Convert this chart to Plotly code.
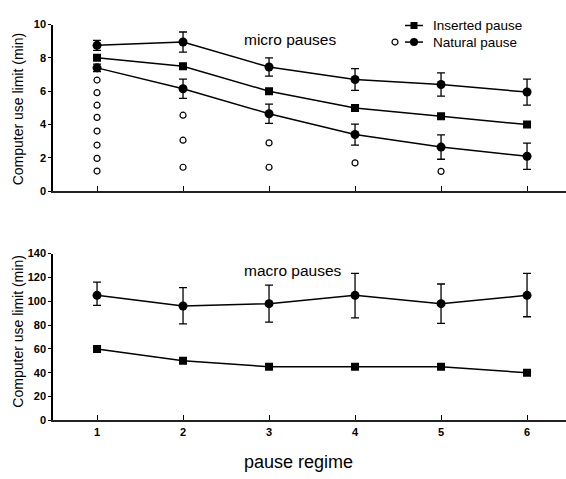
import plotly.graph_objects as go

W, H = 566, 479

regime = [1, 2, 3, 4, 5, 6]
tick_labels = ["1", "2", "3", "4", "5", "6"]

# micro pauses (top panel)
micro_inserted = [8.0, 7.5, 6.0, 5.0, 4.5, 4.0]
micro_nat_upper = [8.75, 8.95, 7.45, 6.7, 6.4, 5.95]
micro_nat_upper_err = [0.3, 0.6, 0.55, 0.65, 0.7, 0.78]
micro_nat_lower = [7.4, 6.15, 4.65, 3.4, 2.65, 2.1]
micro_nat_lower_err = [0.22, 0.58, 0.58, 0.63, 0.73, 0.79]
indiv_x = [1, 1, 1, 1, 1, 1, 1, 1, 2, 2, 2, 3, 3, 4, 5]
indiv_y = [6.67, 5.91, 5.16, 4.43, 3.61, 2.77, 1.97, 1.21,
           4.56, 3.06, 1.44, 2.9, 1.44, 1.7, 1.19]

# macro pauses (bottom panel)
macro_inserted = [60, 50, 45, 45, 45, 40]
macro_natural = [105, 96, 98, 105, 98, 105]
macro_err_plus = [11, 15.5, 15.5, 18.5, 16.5, 18.5]
macro_err_minus = [8.5, 15, 15.5, 19, 16.5, 18]

FONT = "Liberation Sans, Arial, sans-serif"
BLK = "black"

def px(x):
    return x / W

def py(y):
    return 1 - y / H

fig = go.Figure()

err_style = dict(type="data", color=BLK, thickness=1.3, width=4)

# top panel
fig.add_trace(go.Scatter(x=indiv_x, y=indiv_y, mode="markers", xaxis="x", yaxis="y",
                         marker=dict(symbol="circle-open", size=6, color=BLK, line=dict(width=1.2))))
fig.add_trace(go.Scatter(x=regime, y=micro_nat_upper, mode="lines+markers", xaxis="x", yaxis="y",
                         line=dict(color=BLK, width=1.5),
                         marker=dict(symbol="circle", size=9, color=BLK),
                         error_y=dict(array=micro_nat_upper_err, **err_style)))
fig.add_trace(go.Scatter(x=regime, y=micro_inserted, mode="lines+markers", xaxis="x", yaxis="y",
                         line=dict(color=BLK, width=1.5),
                         marker=dict(symbol="square", size=8, color=BLK)))
fig.add_trace(go.Scatter(x=regime, y=micro_nat_lower, mode="lines+markers", xaxis="x", yaxis="y",
                         line=dict(color=BLK, width=1.5),
                         marker=dict(symbol="circle", size=9, color=BLK),
                         error_y=dict(array=micro_nat_lower_err, **err_style)))

# bottom panel
fig.add_trace(go.Scatter(x=regime, y=macro_natural, mode="lines+markers", xaxis="x2", yaxis="y2",
                         line=dict(color=BLK, width=1.5),
                         marker=dict(symbol="circle", size=9, color=BLK),
                         error_y=dict(array=macro_err_plus, arrayminus=macro_err_minus,
                                      symmetric=False, **err_style)))
fig.add_trace(go.Scatter(x=regime, y=macro_inserted, mode="lines+markers", xaxis="x2", yaxis="y2",
                         line=dict(color=BLK, width=1.5),
                         marker=dict(symbol="square", size=8, color=BLK)))

# legend glyphs on a hidden full-page overlay axis (pixel units)
fig.add_trace(go.Scatter(x=[405, 423], y=[20, 20], mode="lines", xaxis="x3", yaxis="y3",
                         line=dict(color=BLK, width=1.5), hoverinfo="skip"))
fig.add_trace(go.Scatter(x=[414], y=[20], mode="markers", xaxis="x3", yaxis="y3",
                         marker=dict(symbol="square", size=7, color=BLK), hoverinfo="skip"))
fig.add_trace(go.Scatter(x=[405, 423], y=[37, 37], mode="lines", xaxis="x3", yaxis="y3",
                         line=dict(color=BLK, width=1.5), hoverinfo="skip"))
fig.add_trace(go.Scatter(x=[414], y=[37], mode="markers", xaxis="x3", yaxis="y3",
                         marker=dict(symbol="circle", size=8, color=BLK), hoverinfo="skip"))
fig.add_trace(go.Scatter(x=[395], y=[37], mode="markers", xaxis="x3", yaxis="y3",
                         marker=dict(symbol="circle-open", size=6, color=BLK, line=dict(width=1.2)),
                         hoverinfo="skip"))

tickfont = dict(family=FONT, size=11, color=BLK, weight="bold")
xdom = [53 / W, 1]
xrange = [0.488, 6.453]

common_x = dict(domain=xdom, range=xrange, tickmode="array", tickvals=regime, ticktext=tick_labels,
                showline=True, linecolor="#222222", linewidth=2, ticks="inside", ticklen=5,
                tickwidth=1.3, tickcolor=BLK, showgrid=False, zeroline=False, tickfont=tickfont)
common_y = dict(showline=True, linecolor=BLK, linewidth=1.5, ticks="outside", ticklen=3,
                tickwidth=1.3, tickcolor=BLK, showgrid=False, zeroline=False, tickfont=tickfont)

fig.update_layout(
    width=W, height=H,
    margin=dict(l=0, r=0, t=0, b=0),
    paper_bgcolor="white", plot_bgcolor="rgba(0,0,0,0)",
    showlegend=False,
    xaxis=dict(anchor="y", showticklabels=False, **common_x),
    yaxis=dict(anchor="x", domain=[py(190), py(19)], range=[0, 10], dtick=2, **common_y),
    xaxis2=dict(anchor="y2", showticklabels=True, **common_x),
    yaxis2=dict(anchor="x2", domain=[py(425), py(254)], range=[0, 140], dtick=20, **common_y),
    xaxis3=dict(domain=[0, 1], range=[0, W], visible=False, anchor="y3", fixedrange=True),
    yaxis3=dict(domain=[0, 1], range=[H, 0], visible=False, anchor="x3", fixedrange=True),
)

def ann(text, x, y, size, xanchor="left", angle=0):
    fig.add_annotation(text=text, x=px(x), y=py(y), xref="paper", yref="paper",
                       xanchor=xanchor, yanchor="middle", showarrow=False, textangle=angle,
                       font=dict(family=FONT, size=size, color=BLK))

ann("micro pauses", 242, 34, 15.5)
ann("macro pauses", 242, 271, 15.5)
ann("Inserted pause", 431, 20, 13.5)
ann("Natural pause", 431, 37, 13.5)
ann("Computer use limit (min)", 18, 106, 14, xanchor="center", angle=-90)
ann("Computer use limit (min)", 18, 334, 14, xanchor="center", angle=-90)
ann("pause regime", 298, 468, 18, xanchor="center")

fig.write_html("out.html")
